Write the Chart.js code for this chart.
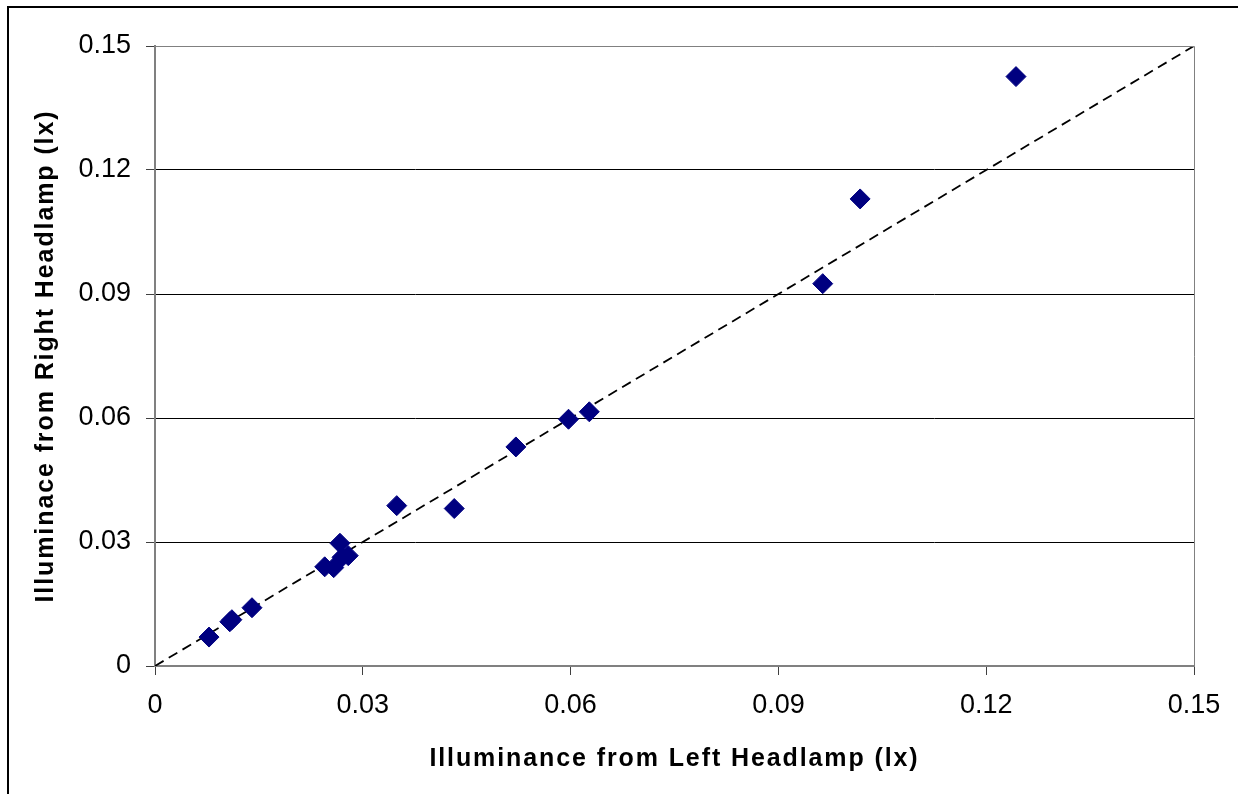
<!DOCTYPE html>
<html>
<head>
<meta charset="utf-8">
<script src="https://cdn.jsdelivr.net/npm/chart.js@4/dist/chart.umd.min.js"></script>
<style>
  body { margin: 0; background: #fff; overflow: hidden; }
  #frame { position: absolute; left: 7px; top: 6px; width: 1400px; height: 1000px; border: 2px solid #000; }
  #wrap { position: absolute; left: 0; top: 0; width: 1238px; height: 794px; }
</style>
</head>
<body>
<div id="frame"></div>
<div id="wrap"><canvas id="chart"></canvas></div>
<script>
// readings, lx
const leftLx = [0.0078, 0.0108, 0.0111, 0.0140, 0.0245, 0.0258, 0.0267, 0.0270, 0.0279, 0.0349, 0.0432, 0.0521, 0.0597, 0.0627, 0.0964, 0.1018, 0.1243];
const rightLx = [0.0070, 0.0107, 0.0112, 0.0141, 0.0240, 0.0238, 0.0297, 0.0263, 0.0267, 0.0388, 0.0381, 0.0530, 0.0597, 0.0615, 0.0925, 0.1130, 0.1426];

// 1:1 line
const lineX = [0, 0.15];
const lineY = [0, 0.15];

const axisMax = 0.15;
const axisStep = 0.03;

const tickFont = { family: '"Liberation Sans", Arial, sans-serif', size: 27 };
const titleFont = { family: '"Liberation Sans", Arial, sans-serif', size: 25, weight: 'bold' };

const fmt = (v) => String(Number(v.toFixed(2)));

// Excel spreads the axis titles out a bit
const spacedTitles = {
  id: 'spacedTitles',
  beforeDraw(chart) {
    Object.values(chart.scales).forEach((scale) => {
      if (scale._spaced) return;
      const orig = scale.drawTitle;
      scale.drawTitle = function () {
        const ctx = this.ctx;
        ctx.save();
        ctx.letterSpacing = '1.9px';
        orig.call(this);
        ctx.restore();
      };
      scale._spaced = true;
    });
  },
};

const plotBorder = {
  id: 'plotBorder',
  afterDraw(chart) {
    const { ctx, chartArea: { left, top, right, bottom } } = chart;
    ctx.save();
    ctx.strokeStyle = '#808080';
    ctx.lineWidth = 1;
    ctx.beginPath();
    ctx.moveTo(left, top + 0.5);
    ctx.lineTo(right + 0.5, top + 0.5);
    ctx.lineTo(right + 0.5, bottom);
    ctx.stroke();
    ctx.restore();
  },
};

const config = {
  type: 'scatter',
  data: {
    datasets: [
      {
        label: 'Illuminance',
        data: leftLx.map((x, i) => ({ x: x, y: rightLx[i] })),
        pointStyle: 'rectRot',
        pointRadius: 10,
        pointHoverRadius: 10,
        backgroundColor: '#000080',
        borderColor: '#000080',
        borderWidth: 1,
      },
      {
        type: 'line',
        label: '1:1',
        data: lineX.map((x, i) => ({ x: x, y: lineY[i] })),
        borderColor: '#000',
        borderWidth: 1.8,
        borderDash: [10, 6],
        pointRadius: 0,
        fill: false,
      },
    ],
  },
  options: {
    responsive: true,
    maintainAspectRatio: false,
    animation: false,
    layout: {
      padding: { left: 0, top: 46, right: 44, bottom: 0 },
    },
    scales: {
      x: {
        type: 'linear',
        min: 0,
        max: axisMax,
        afterFit: (scale) => { scale.height = 128; },
        ticks: {
          stepSize: axisStep,
          color: '#000',
          font: tickFont,
          padding: 14,
          maxRotation: 0,
          callback: fmt,
        },
        grid: {
          drawOnChartArea: false,
          drawTicks: true,
          tickLength: 9,
          color: '#404040',
        },
        border: { color: '#808080', width: 2 },
        title: {
          display: true,
          text: 'Illuminance from Left Headlamp (lx)',
          color: '#000',
          font: titleFont,
          padding: { top: 0, bottom: 20 },
        },
      },
      y: {
        type: 'linear',
        min: 0,
        max: axisMax,
        afterFit: (scale) => { scale.width = 155; },
        ticks: {
          stepSize: axisStep,
          color: '#000',
          font: tickFont,
          padding: 15,
          callback: fmt,
        },
        grid: {
          color: (c) => (c.tick && c.tick.value >= axisMax ? '#808080' : '#000'),
          tickColor: '#404040',
          tickLength: 9,
          lineWidth: 1,
        },
        border: { color: '#808080', width: 2 },
        title: {
          display: true,
          text: 'Illuminace from Right Headlamp (lx)',
          color: '#000',
          font: titleFont,
          padding: { top: 31, bottom: 0 },
        },
      },
    },
    plugins: {
      legend: { display: false },
      tooltip: { enabled: false },
    },
  },
  plugins: [spacedTitles, plotBorder],
};

new Chart(document.getElementById('chart'), config);
</script>
</body>
</html>
